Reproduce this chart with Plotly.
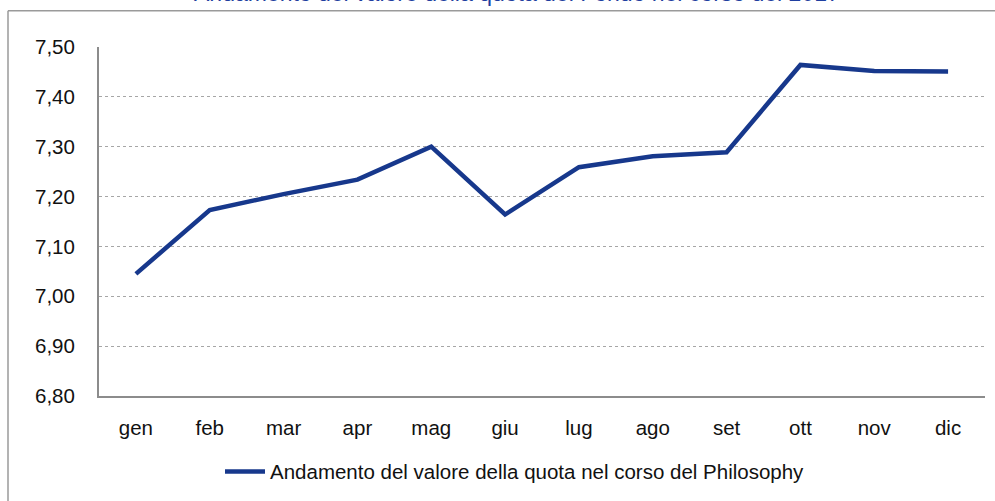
import plotly.graph_objects as go

months = ["gen", "feb", "mar", "apr", "mag", "giu", "lug", "ago", "set", "ott", "nov", "dic"]
quota = [7.045, 7.173, 7.205, 7.234, 7.300, 7.164, 7.259, 7.281, 7.289, 7.464, 7.452, 7.451]
y_ticks = [6.80, 6.90, 7.00, 7.10, 7.20, 7.30, 7.40, 7.50]
y_tick_text = ["6,80", "6,90", "7,00", "7,10", "7,20", "7,30", "7,40", "7,50"]
series_name = "Andamento del valore della quota nel corso del Philosophy"
title_text = "Andamento del valore della quota del Fondo nel corso del 2017"

FONT = "Liberation Sans, Arial, sans-serif"
LINE_COLOR = "#17388c"
AXIS_COLOR = "#8c8c8c"
FS = 20.5

fig = go.Figure()
fig.add_trace(go.Scatter(
    x=months, y=quota, mode="lines", name=series_name,
    line=dict(color=LINE_COLOR, width=4.5),
))

# plot area: x 99..985, y 47..398 px
L, R, T, B = 99, 10, 47, 103
W, H = 995, 501
pw, ph = W - L - R, H - T - B

def px_x(p):
    return (p - L) / pw

def px_y(p):
    return (H - B - p) / ph

fig.update_layout(
    width=W, height=H,
    margin=dict(l=L, r=R, t=T, b=B),
    paper_bgcolor="white", plot_bgcolor="white",
    font=dict(family=FONT, size=FS, color="#111111"),
    showlegend=True,
    legend=dict(
        orientation="h", x=px_x(515), xanchor="center",
        y=px_y(474), yanchor="middle",
        font=dict(family=FONT, size=FS, color="#111111"),
        itemwidth=40,
    ),
    xaxis=dict(
        showgrid=False, showline=True, linecolor=AXIS_COLOR, linewidth=2,
        ticks="", ticklabelstandoff=12, tickfont=dict(size=FS),
        range=[-0.5, 11.5],
    ),
    yaxis=dict(
        range=[6.80, 7.50], tickvals=y_ticks, ticktext=y_tick_text,
        showgrid=True, gridcolor="#a6a6a6", griddash="dot", gridwidth=1,
        showline=True, linecolor=AXIS_COLOR, linewidth=2,
        ticks="", ticklabelstandoff=18, tickfont=dict(size=FS),
        zeroline=False,
    ),
    shapes=[
        dict(type="line", xref="paper", yref="paper",
             x0=px_x(8), x1=px_x(W + 5), y0=px_y(10.5), y1=px_y(10.5),
             line=dict(color="#9a9a9a", width=1.5)),
        dict(type="line", xref="paper", yref="paper",
             x0=px_x(8), x1=px_x(8), y0=px_y(10.5), y1=px_y(H + 5),
             line=dict(color="#9a9a9a", width=1.5)),
    ],
    annotations=[
        dict(text=title_text, xref="paper", yref="paper",
             x=px_x(517), y=px_y(-7), xanchor="center", yanchor="middle",
             showarrow=False, font=dict(family=FONT, size=23, color="#1f3fa0")),
    ],
)

fig.write_html("out.html",
               config={"displayModeBar": False},
               post_script="document.body.style.margin='0px';document.body.style.overflow='hidden';")
